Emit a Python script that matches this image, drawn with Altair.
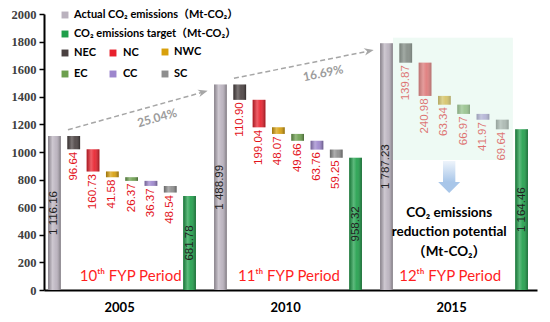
import json
import math
import altair as alt
import pandas as pd

# ---------------- data ----------------
years = ["2005", "2010", "2015"]
actual = [1116.16, 1488.99, 1787.23]
target = [681.78, 958.32, 1164.46]
regions = ["NEC", "NC", "NWC", "EC", "CC", "SC"]
nec = [96.64, 110.90, 139.87]
nc = [160.73, 199.04, 240.98]
nwc = [41.58, 48.07, 63.34]
ec = [26.37, 49.66, 66.97]
cc = [36.37, 63.76, 41.97]
sc = [48.54, 59.25, 69.64]
growth = ["25.04%", "16.69%"]
periods = ["10ᵗʰ FYP Period", "11ᵗʰ FYP Period", "12ᵗʰ FYP Period"]
series_names = ["Actual", "Target"] + regions
legend_labels = ["Actual CO₂ emissions（Mt-CO₂）", "CO₂ emissions target（Mt-CO₂）"] + regions
potential_lines = ["CO₂ emissions", "reduction potential", "（Mt-CO₂）"]
y_ticks = list(range(0, 2001, 200))

series_colors = ["#bab2be", "#1f9f4a", "#4a4141", "#e8212d", "#d8a00c",
                 "#6c9f4e", "#9d86cd", "#8e8e8e"]

# ---------------- layout ----------------
W, H = 493, 276
X0, X1 = -0.54, 25.0
YMAX = 2000
PX = W / (X1 - X0)
PY = H / YMAX
LEFT, TOP = 44, 14
GROUP_STEP = 8.6
HALF = 0.33
SANS = "Lato, 'DejaVu Sans', 'Noto Sans CJK SC'"
NUM = "'Liberation Sans', Arial"


def dx(px):
    return X0 + (px - LEFT) / PX


def dy(py):
    return YMAX - (py - TOP) / PY


region_vals = dict(zip(regions, [nec, nc, nwc, ec, cc, sc]))

rows = []
for g, yr in enumerate(years):
    s = g * GROUP_STEP
    rows.append(dict(year=yr, series="Actual", pos=s, y0=0.0, y1=actual[g],
                     value=actual[g], kind="total", g=g))
    top = actual[g]
    for i, r in enumerate(regions):
        v = region_vals[r][g]
        rows.append(dict(year=yr, series=r, pos=s + 1 + i, y0=top - v, y1=top,
                         value=v, kind="cut", g=g))
        top -= v
    rows.append(dict(year=yr, series="Target", pos=s + 7, y0=0.0, y1=target[g],
                     value=target[g], kind="total", g=g))
bars_df = pd.DataFrame(rows)
bars_df["x0"] = bars_df["pos"] - HALF
bars_df["x1"] = bars_df["pos"] + HALF
bars_df["label"] = [
    (f"{v:,.2f}".replace(",", " ") if k == "total" else f"{v:.2f}")
    for v, k in zip(bars_df["value"], bars_df["kind"])
]
bars_df["ly"] = [
    (y1 / 2 if k == "total" else y0 - 18)
    for y0, y1, k in zip(bars_df["y0"], bars_df["y1"], bars_df["kind"])
]
cuts_df = bars_df[bars_df["kind"] == "cut"]
totals_df = bars_df[bars_df["kind"] == "total"]

xs = alt.Scale(domain=[X0, X1], nice=False, zero=False)
ys = alt.Scale(domain=[0, YMAX], nice=False)
cscale = alt.Scale(domain=series_names, range=series_colors)

year_pos = [g * GROUP_STEP + 3.35 for g in range(len(years))]
x_axis = alt.Axis(
    values=year_pos,
    labelExpr=f"{json.dumps(years)}[round((datum.value - 3.35) / {GROUP_STEP})]",
    ticks=False, grid=False, title=None, labelPadding=11,
)
y_axis = alt.Axis(values=y_ticks, format="d", grid=False, title=None,
                  tickSize=5, labelPadding=3)


def X(field):
    return alt.X(field, scale=xs, axis=x_axis)


def Y(field):
    return alt.Y(field, scale=ys, axis=y_axis)


bars = alt.Chart(bars_df).mark_bar().encode(
    x=X("x0:Q"), x2="x1:Q", y=Y("y0:Q"), y2="y1:Q",
    color=alt.Color("series:N", scale=cscale, legend=None),
)

shine_grad = alt.Gradient(
    gradient="linear", x1=0, x2=1, y1=0, y2=0,
    stops=[
        alt.GradientStop(color="rgba(0,0,0,0.28)", offset=0),
        alt.GradientStop(color="rgba(255,255,255,0.28)", offset=0.35),
        alt.GradientStop(color="rgba(255,255,255,0.08)", offset=0.6),
        alt.GradientStop(color="rgba(0,0,0,0.35)", offset=1),
    ],
)
shine = alt.Chart(bars_df).mark_bar(fill=shine_grad).encode(
    x=X("x0:Q"), x2="x1:Q", y=Y("y0:Q"), y2="y1:Q",
)

cut_labels = alt.Chart(cuts_df).mark_text(
    angle=270, align="right", baseline="middle", font=NUM, fontSize=11.5,
    color="#e3131b",
).encode(x=X("pos:Q"), y=Y("ly:Q"), text="label:N")

total_labels = alt.Chart(totals_df).mark_text(
    angle=270, align="center", baseline="middle", font=NUM, fontSize=11.5,
    color="#222222",
).encode(x=X("pos:Q"), y=Y("ly:Q"), text="label:N")

# faded highlight box over the 2015 reductions
g3 = 2 * GROUP_STEP
box_df = pd.DataFrame([dict(bx0=g3 + 1 - 0.66, bx1=g3 + 6 + 0.55,
                            by0=dy(160), by1=actual[2] + 40)])
box = alt.Chart(box_df).mark_rect(fill="#d6f4e4", opacity=0.42).encode(
    x=X("bx0:Q"), x2="bx1:Q", y=Y("by0:Q"), y2="by1:Q",
)

# growth arrows between periods
arr = []
for g in range(len(years) - 1):
    sx = g * GROUP_STEP + 0.7
    sy = actual[g] + 45
    ex = (g + 1) * GROUP_STEP - 0.9
    ey = actual[g + 1] - 55
    ang = math.degrees(math.atan2(-(ey - sy) * PY, (ex - sx) * PX)) % 360
    lx = sx + 0.66 * (ex - sx)
    ly = sy + 0.66 * (ey - sy) - 13 / PY
    arr.append(dict(sx=sx, sy=sy, ex=ex, ey=ey, angle=ang, lx=lx, ly=ly,
                    txt=growth[g]))
arr_df = pd.DataFrame(arr)
arr_lines = alt.Chart(arr_df).mark_rule(
    color="#a6a6a6", strokeWidth=1.5, strokeDash=[5, 3]
).encode(x=X("sx:Q"), x2="ex:Q", y=Y("sy:Q"), y2="ey:Q")
arr_heads = alt.Chart(arr_df).mark_point(
    shape="M-1,-0.8L1,0L-1,0.8L-0.4,0Z", filled=True, color="#a6a6a6",
    size=90, opacity=1,
).encode(x=X("ex:Q"), y=Y("ey:Q"), angle=alt.Angle("angle:Q", scale=None))
arr_text = alt.Chart(arr_df).mark_text(
    font=SANS, fontSize=12, fontWeight="bold", color="#9c9c9c",
    align="center", baseline="middle",
).encode(
    x=X("lx:Q"), y=Y("ly:Q"),
    angle=alt.Angle("angle:Q", scale=None), text="txt:N",
)

# blue down arrow
ax = g3 + 3.25
shaft_df = pd.DataFrame([dict(a0=ax - 0.32, a1=ax + 0.32, t=dy(161), b=dy(182),
                              c=ax, hy=dy(187.5))])
shaft_grad = alt.Gradient(
    gradient="linear", x1=0, x2=0, y1=0, y2=1,
    stops=[alt.GradientStop(color="#eef4fb", offset=0),
           alt.GradientStop(color="#a8c6e9", offset=1)],
)
shaft = alt.Chart(shaft_df).mark_bar(fill=shaft_grad).encode(
    x=X("a0:Q"), x2="a1:Q", y=Y("b:Q"), y2="t:Q",
)
head = alt.Chart(shaft_df).mark_point(
    shape="M-1,-0.5L1,-0.5L0,0.5Z", filled=True, color="#a8c6e9", size=484,
    opacity=1,
).encode(x=X("c:Q"), y=Y("hy:Q"))

pot_df = pd.DataFrame(dict(t=potential_lines, px=[ax] * 3,
                           py=[dy(213), dy(232), dy(252)]))
pot_text = alt.Chart(pot_df).mark_text(
    font=SANS, fontSize=13.5, fontWeight="bold", color="black",
    align="center", baseline="middle",
).encode(x=X("px:Q"), y=Y("py:Q"), text="t:N")

per_df = pd.DataFrame(dict(t=periods,
                           px=[g * GROUP_STEP + c for g, c in enumerate([3.95, 3.55, 3.3])],
                           py=[dy(276)] * 3))
per_text = alt.Chart(per_df).mark_text(
    font=SANS, fontSize=15, color="#ff1f1f", align="center", baseline="middle",
).encode(x=X("px:Q"), y=Y("py:Q"), text="t:N")

# legend
sq_x = [65, 65, 65, 113, 165, 65, 113, 165]
sq_y = [15, 34, 53, 53, 52, 74, 74, 74]
tx_x = [74, 74, 74, 123, 174, 74, 123, 174]
leg_df = pd.DataFrame(dict(
    series=series_names, label=legend_labels,
    sx=[dx(v) for v in sq_x], sy=[dy(v) for v in sq_y],
    tx=[dx(v) for v in tx_x],
))
leg_sq = alt.Chart(leg_df).mark_square(size=48, opacity=1).encode(
    x=X("sx:Q"), y=Y("sy:Q"),
    color=alt.Color("series:N", scale=cscale, legend=None),
)
leg_tx = alt.Chart(leg_df).mark_text(
    font=SANS, fontSize=11, fontWeight="bold", color="black", align="left",
    baseline="middle",
).encode(x=X("tx:Q"), y=Y("sy:Q"), text="label:N")

chart = alt.layer(
    bars, shine, cut_labels, total_labels, box, arr_lines, arr_heads, arr_text,
    shaft, head, pot_text, per_text, leg_sq, leg_tx,
).properties(
    width=W, height=H, autosize=alt.AutoSizeParams(type="none"),
    padding={"left": 36, "top": 6, "right": 5, "bottom": 24},
    background="white",
).configure_view(stroke=None).configure_axis(
    domainColor="black", domainWidth=2, tickColor="black", tickWidth=1.5,
).configure_axisX(
    labelFont="Lato", labelFontWeight="bold", labelFontSize=13,
    labelColor="black",
).configure_axisY(
    labelFont="Liberation Serif", labelFontWeight="bold", labelFontSize=12.5,
    labelColor="#404040",
)

chart.save("out.html", embed_options={"renderer": "svg", "actions": False})
